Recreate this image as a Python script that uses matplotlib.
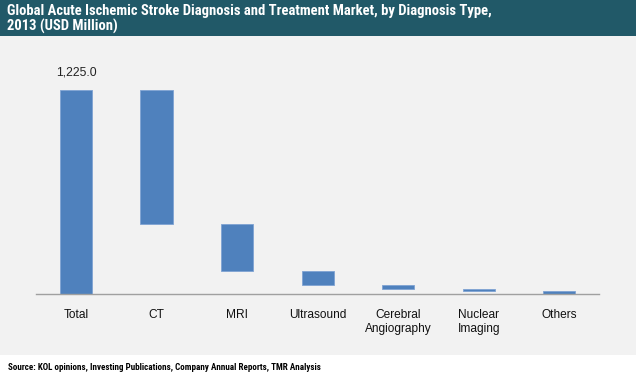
import matplotlib
matplotlib.use("Agg")
import matplotlib.pyplot as plt
from matplotlib.patches import Rectangle
from matplotlib import font_manager

categories = ["Total", "CT", "MRI", "Ultrasound", "Cerebral\nAngiography", "Nuclear\nImaging", "Others"]
total_value = 1225.0
segment_values = [802.0, 283.0, 86.0, 22.0, 12.0, 20.0]

title_text = "Global Acute Ischemic Stroke Diagnosis and Treatment Market, by Diagnosis Type,\n2013 (USD Million)"
source_text = "Source: KOL opinions, Investing Publications, Company Annual Reports, TMR Analysis"

names = {f.name for f in font_manager.fontManager.ttflist}
narrow = "Liberation Sans"
for cand in ["Liberation Sans Narrow", "Arial Narrow", "Roboto Condensed", "IBM Plex Sans Condensed"]:
    if cand in names:
        narrow = cand
        break
condensed_ok = narrow != "Liberation Sans"

W, H = 636, 378
fig = plt.figure(figsize=(W / 100, H / 100), dpi=100)
fig.patch.set_facecolor("white")

fig.patches.append(Rectangle((0, 1 - 36 / H), 1, 36 / H, transform=fig.transFigure,
                             facecolor="#215968", edgecolor="none", zorder=-5))
fig.patches.append(Rectangle((0, 23 / H), 1, 1 - 36 / H - 23 / H, transform=fig.transFigure,
                             facecolor="#f2f2f2", edgecolor="none", zorder=-5))

ax = fig.add_axes([35.75 / W, 84 / H, 563.75 / W, 233 / H])
ax.set_facecolor("none")
ax.set_zorder(5)

bar_color = "#4f81bd"
edge_color = "#7fa3d3"
x = list(range(len(categories)))

bottoms = [0.0]
heights = [total_value]
running = total_value
for v in segment_values:
    running -= v
    bottoms.append(running)
    heights.append(v)

ax.bar(x, heights, bottom=bottoms, width=0.4, color=bar_color, edgecolor=edge_color, linewidth=0.6)

ax.text(0, total_value + 70, f"{total_value:,.1f}", ha="center", va="bottom",
        fontsize=8.8, family="Liberation Sans", color="#222222")

ax.set_xlim(-0.5, len(categories) - 0.5)
ax.set_ylim(0, 1400)
ax.set_yticks([])
ax.set_xticks(x)
ax.set_xticklabels(categories, fontsize=8.6, family="Liberation Sans", color="#111111", linespacing=1.15)
ax.tick_params(axis="x", length=0, pad=11)
for s in ["top", "right", "left"]:
    ax.spines[s].set_visible(False)
ax.spines["bottom"].set_color("#a0a0a0")
ax.spines["bottom"].set_linewidth(1.0)

fig.text(7 / W, 1 - 4 / H, title_text, ha="left", va="top", color="white",
         fontsize=10.5 if condensed_ok else 9.0, fontweight="bold", family=narrow, linespacing=1.05)

fig.text(8 / W, 10 / H, source_text, ha="left", va="center", color="black",
         fontsize=6.5 if condensed_ok else 5.9, fontweight="bold", family=narrow)

fig.savefig("out.png", dpi=100, facecolor=fig.get_facecolor())
